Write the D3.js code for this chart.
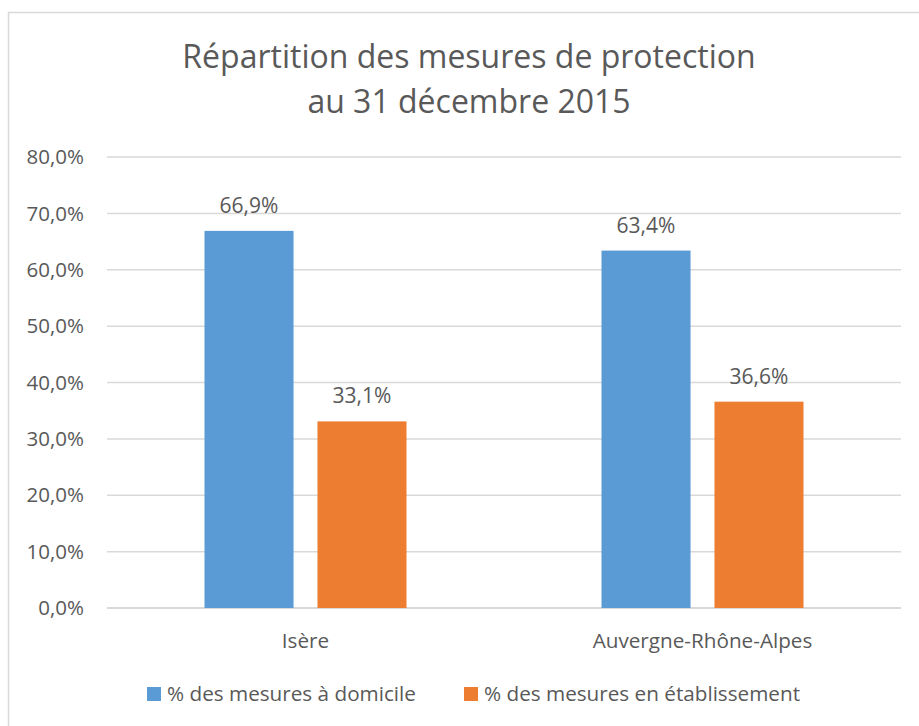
<!DOCTYPE html>
<html>
<head>
<meta charset="utf-8">
<script src="https://cdn.jsdelivr.net/npm/d3@7"></script>
<style>
  body { margin: 0; background: #fff; }
  text { font-family: "Open Sans", "DejaVu Sans", sans-serif; fill: #595959; }
</style>
</head>
<body>
<div id="chart"></div>
<script>
// data
var categories = ["Isère", "Auvergne-Rhône-Alpes"];
var seriesNames = ["% des mesures à domicile", "% des mesures en établissement"];
var domicile = [66.9, 63.4];
var etablissement = [33.1, 36.6];
var yTicks = [0, 10, 20, 30, 40, 50, 60, 70, 80];
var titleLines = ["Répartition des mesures de protection", "au 31 décembre 2015"];

var colors = ["#5B9BD5", "#ED7D31"];
var width = 919, height = 726;
var margin = {top: 157, left: 107, right: 18, bottom: 118};
var fmt = function(d) { return d.toFixed(1).replace(".", ",") + "%"; };

var svg = d3.select("#chart").append("svg")
  .attr("width", width)
  .attr("height", height);

// chart border (runs off the right and bottom of the picture)
svg.append("rect")
  .attr("x", 8.5).attr("y", 12.5)
  .attr("width", 1000).attr("height", 1000)
  .attr("fill", "none")
  .attr("stroke", "#D9D9D9")
  .attr("stroke-width", 1.5);

// title
svg.append("g").selectAll("text")
  .data(titleLines)
  .enter().append("text")
  .attr("x", 469)
  .attr("y", function(d, i) { return 68 + i * 45; })
  .attr("text-anchor", "middle")
  .style("font-size", "32px")
  .text(function(d) { return d; });

var x0 = d3.scaleBand()
  .domain(categories)
  .range([margin.left, width - margin.right]);

var x1 = d3.scaleBand()
  .domain([0, 1])
  .range([x0.bandwidth() / 2 - 101, x0.bandwidth() / 2 + 101])
  .paddingInner(0.212)
  .paddingOuter(0);

var y = d3.scaleLinear()
  .domain([0, 80])
  .range([height - margin.bottom, margin.top]);

// gridlines
svg.append("g").selectAll("line")
  .data(yTicks)
  .enter().append("line")
  .attr("x1", margin.left)
  .attr("x2", width - margin.right)
  .attr("y1", function(d) { return y(d); })
  .attr("y2", function(d) { return y(d); })
  .attr("stroke", "#D9D9D9")
  .attr("stroke-width", function(d) { return d === 0 ? 2 : 1.5; });

// y tick labels
svg.append("g").selectAll("text")
  .data(yTicks)
  .enter().append("text")
  .attr("x", 84)
  .attr("y", function(d) { return y(d); })
  .attr("dy", "0.35em")
  .attr("text-anchor", "end")
  .style("font-size", "20.5px")
  .text(fmt);

var rows = categories.map(function(c, i) {
  return {cat: c, values: [domicile[i], etablissement[i]]};
});

var groups = svg.append("g").selectAll("g")
  .data(rows)
  .enter().append("g")
  .attr("transform", function(d) { return "translate(" + x0(d.cat) + ",0)"; });

groups.selectAll("rect")
  .data(function(d) { return d.values; })
  .enter().append("rect")
  .attr("x", function(d, i) { return x1(i); })
  .attr("width", x1.bandwidth())
  .attr("y", function(d) { return y(d); })
  .attr("height", function(d) { return y(0) - y(d); })
  .attr("fill", function(d, i) { return colors[i]; });

groups.selectAll("text")
  .data(function(d) { return d.values; })
  .enter().append("text")
  .attr("x", function(d, i) { return x1(i) + x1.bandwidth() / 2; })
  .attr("y", function(d) { return y(d) - 18; })
  .attr("text-anchor", "middle")
  .style("font-size", "21px")
  .text(fmt);

// category labels
svg.append("g").selectAll("text")
  .data(categories)
  .enter().append("text")
  .attr("x", function(d) { return x0(d) + x0.bandwidth() / 2; })
  .attr("y", 648)
  .attr("text-anchor", "middle")
  .style("font-size", "20.7px")
  .text(function(d) { return d; });

// legend
var legendX = [147, 464];
var legend = svg.append("g").selectAll("g")
  .data(seriesNames)
  .enter().append("g")
  .attr("transform", function(d, i) { return "translate(" + legendX[i] + ",687)"; });

legend.append("rect")
  .attr("width", 14).attr("height", 14)
  .attr("fill", function(d, i) { return colors[i]; });

legend.append("text")
  .attr("x", 20)
  .attr("y", 14)
  .style("font-size", "20.7px")
  .text(function(d) { return d; });
</script>
</body>
</html>
